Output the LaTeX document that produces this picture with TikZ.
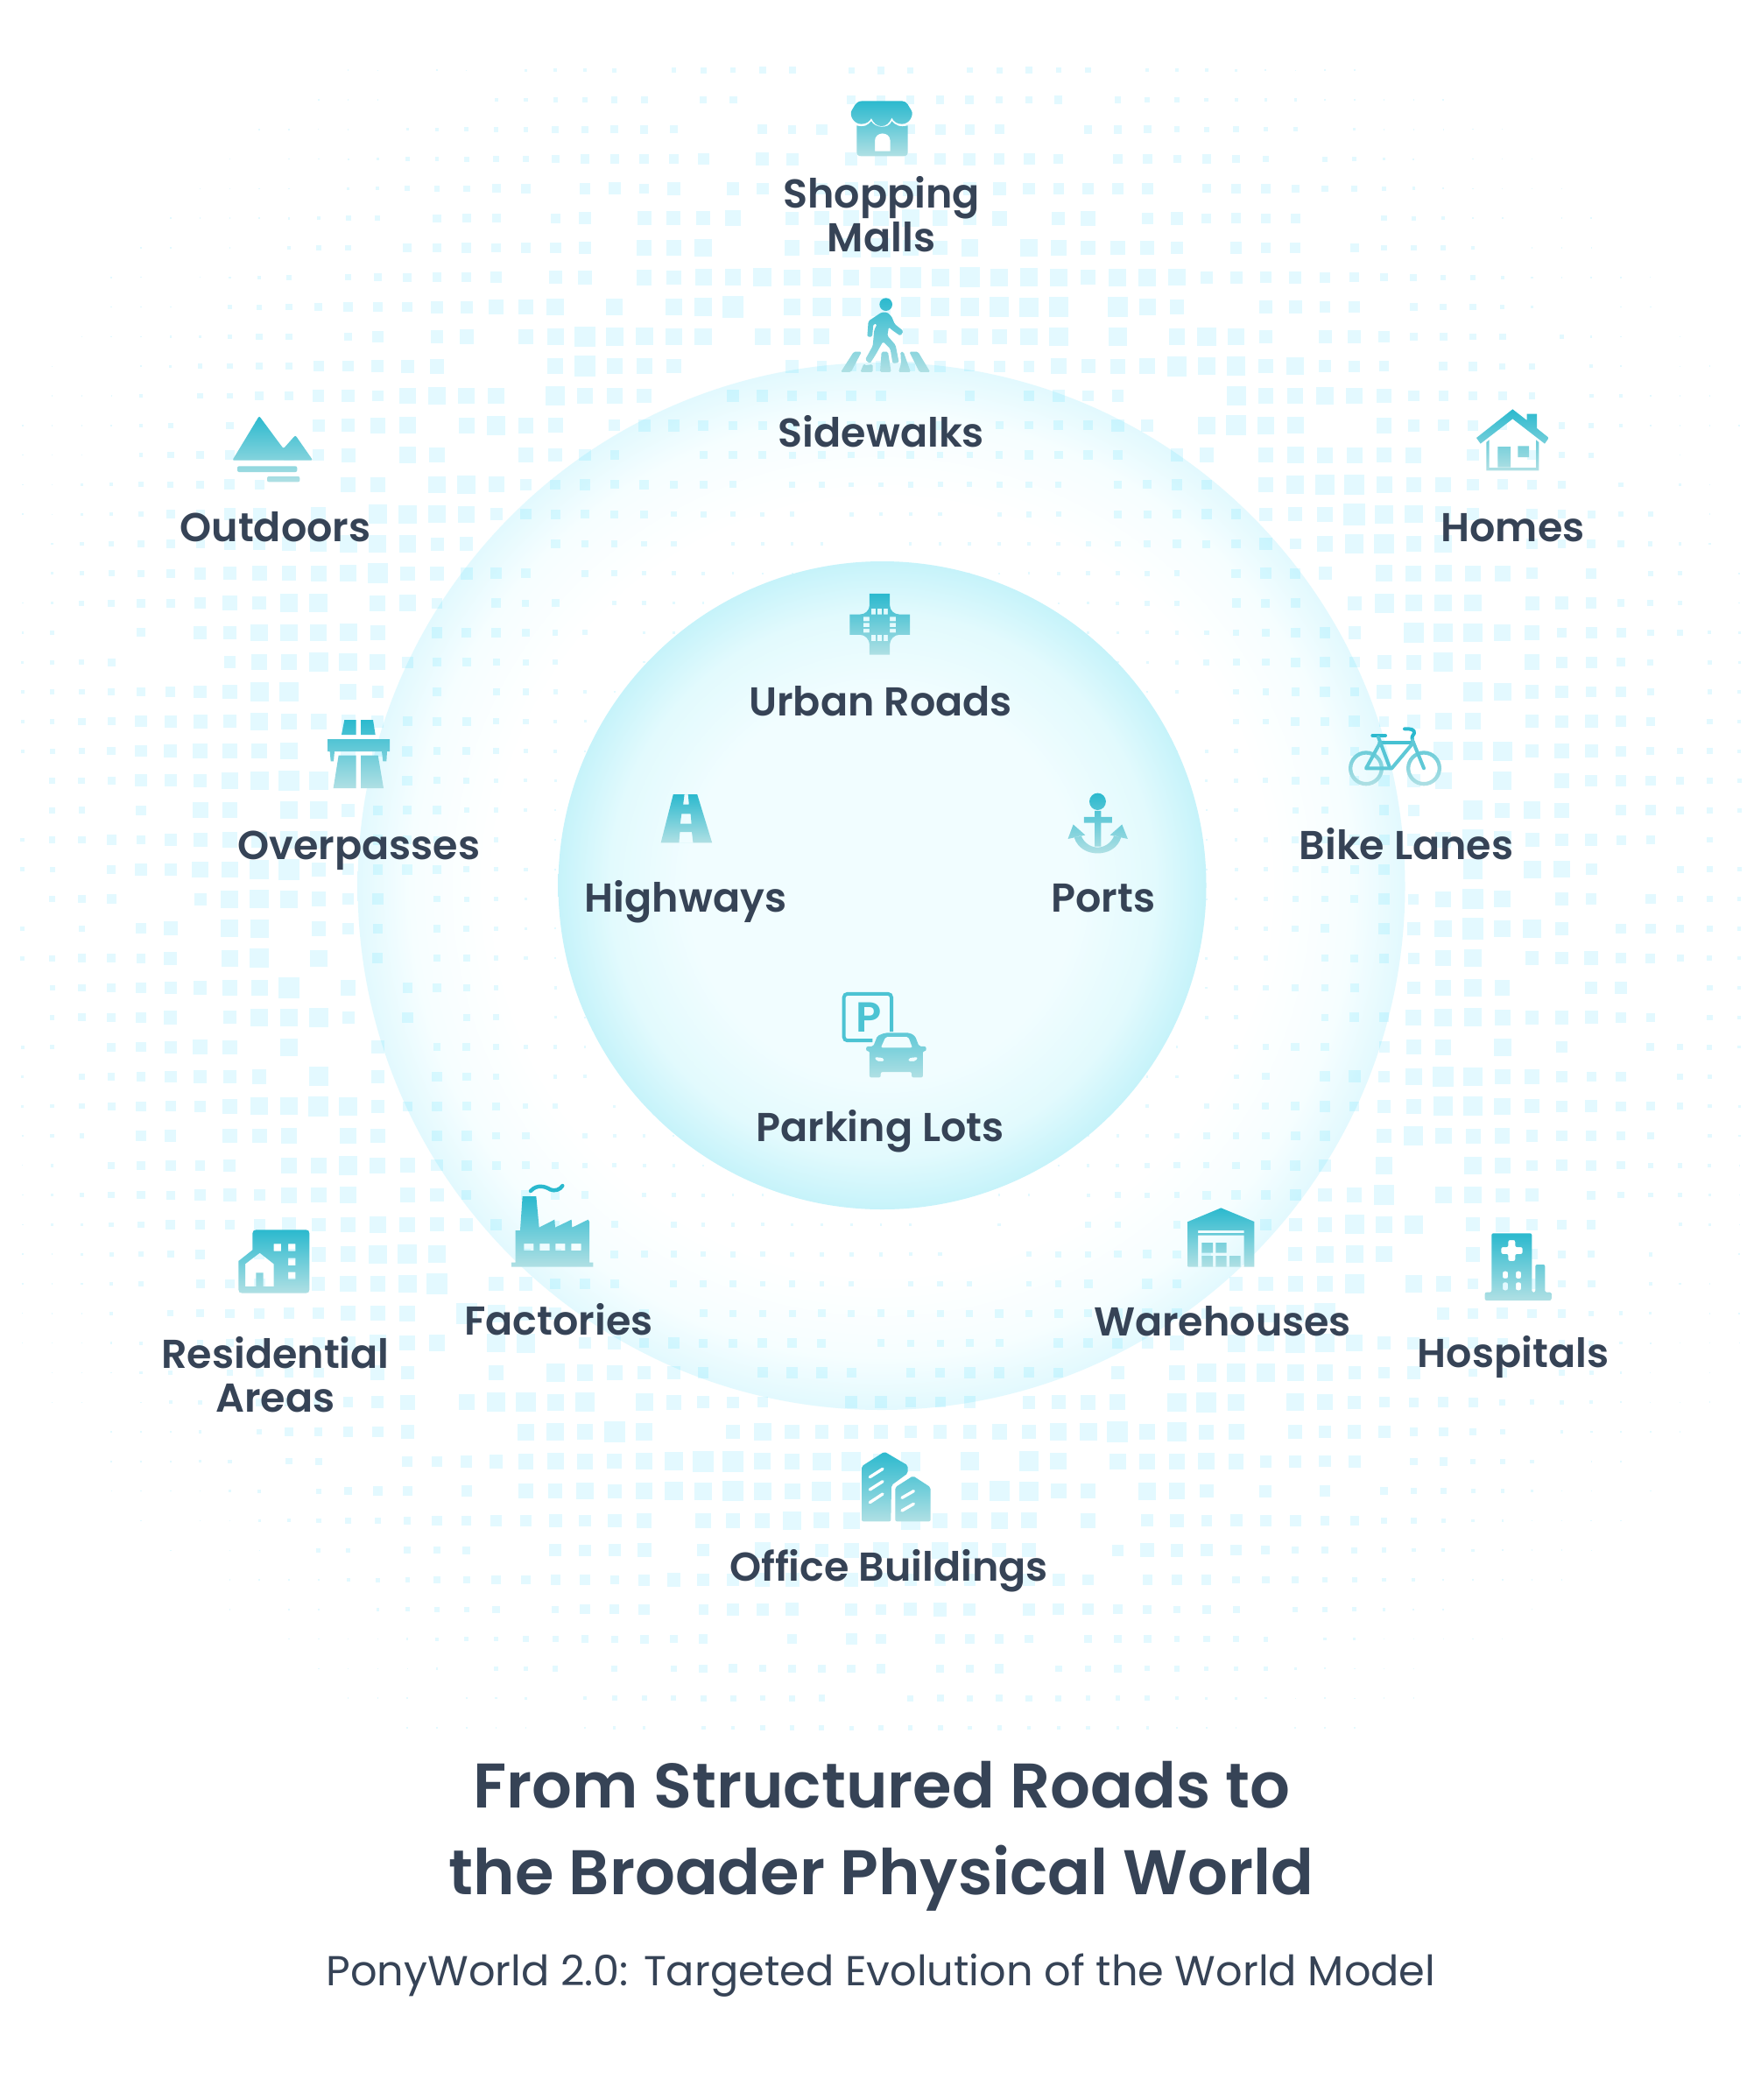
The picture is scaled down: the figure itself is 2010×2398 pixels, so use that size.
\documentclass[tikz,border=0pt]{standalone}
\usepackage{fontspec}
\newfontfamily\lblfont{Poppins SemiBold}
\newfontfamily\subfont{Poppins}
\usepackage{xcolor}
\definecolor{cText}{HTML}{364356}
\definecolor{cIconTop}{HTML}{2BB9CE}
\definecolor{cIconEnd}{HTML}{B0E0E4}
\definecolor{cDot}{HTML}{00D1FF}
\definecolor{cRingRim}{HTML}{E2F9FE}
\definecolor{cRingMid}{HTML}{F6FEFF}
\definecolor{cCore}{HTML}{F1FDFF}
\definecolor{cCoreMid}{HTML}{E2FAFD}
\definecolor{cCoreRim}{HTML}{C6F3FA}
\usepackage{tikz}
\usetikzlibrary{calc}
\pgfdeclareradialshading{ringshade}{\pgfpointorigin}{color(0bp)=(white);color(18.5bp)=(white);color(22.5bp)=(cRingMid);color(25bp)=(cRingRim);color(50bp)=(cRingRim)}
\pgfdeclareradialshading{coreshade}{\pgfpointorigin}{color(0bp)=(cCore);color(15bp)=(cCore);color(21bp)=(cCoreMid);color(25bp)=(cCoreRim);color(50bp)=(cCoreRim)}
\tikzset{
  node-label/.style={inner sep=0pt,text=cText,align=center,
    font=\lblfont\fontsize{23}{25}\selectfont},
  node-title/.style={inner sep=0pt,text=cText,anchor=base,
    font=\lblfont\fontsize{36}{49}\selectfont},
  node-sub/.style={inner sep=0pt,text=cText,anchor=base,
    font=\subfont\fontsize{23.9}{30}\selectfont},
  icon-fill/.style={top color=cIconTop,bottom color=cIconEnd},
  icon-holes/.style={icon-fill,even odd rule},
  icon-line/.style={line cap=round,line join=round,line width=2pt},
}
\begin{document}
\begin{tikzpicture}[x=0.5pt,y=-0.5pt]
  \path[use as bounding box,fill=white] (0,0) rectangle (2010,2398);
  % outer ring under the dots
  \shade[shading=ringshade] (1006.5,1012) circle[radius=598];
  % dot field, size follows the distance from the centre
  \pgfmathsetseed{271}
  \begin{scope}[fill=cDot,fill opacity=.11]
    \foreach \col in {-29,...,29} {
      \foreach \row in {-1,...,55} {
        \pgfmathsetmacro{\dotx}{1006+33.8*\col}
        \pgfmathsetmacro{\doty}{114+33.8*\row}
        \pgfmathsetmacro{\dotr}{veclen(\dotx-1006,\doty-1011)}
        \pgfmathsetmacro{\dotbase}{\dotr<370 ? 2 : (\dotr<600 ? 2+(\dotr-370)*11/230 :
          (\dotr<680 ? 13+(\dotr-600)*9/80 : (\dotr<1030 ? 22-(\dotr-680)*20/350 :
          (\dotr<1120 ? 1.5 : 0))))}
        \pgfmathsetmacro{\dotsz}{rnd<0.16 ? 0 : \dotbase*(0.85+0.3*rnd)}
        \ifdim\dotsz pt>0.5pt
          \fill ({\dotx-\dotsz/2},{\doty-\dotsz/2}) rectangle ++(\dotsz,\dotsz);
        \fi
      }
    }
  \end{scope}
  % inner disc
  \shade[shading=coreshade] (1007.5,1011) circle[radius=370];

  % shop and pedestrian
  \begin{scope}[shift={(850,90)},scale=1/3]
    \shade[icon-holes]
      (405,76) -- (540,76) .. controls (550,76) and (556,82) .. (560,88) -- (572,108)
      .. controls (582,124) and (566,155) .. (540,155) .. controls (525,155) and (512,148) .. (505,133)
      .. controls (498,152) and (485,162) .. (470,162) .. controls (455,162) and (442,152) .. (435,135)
      .. controls (428,148) and (416,155) .. (400,155) .. controls (375,155) and (358,124) .. (368,108)
      -- (380,88) .. controls (384,82) and (392,76) .. (405,76) -- cycle
      (385,160) .. controls (410,168) and (425,158) .. (435,145) .. controls (445,168) and (495,174) .. (505,145)
      .. controls (515,158) and (535,168) .. (560,160) -- (560,250) .. controls (560,260) and (555,265) .. (545,265)
      -- (400,265) .. controls (390,265) and (385,260) .. (385,250) -- cycle
      (447,248) -- (447,212) .. controls (447,196) and (460,187) .. (473,187)
      .. controls (488,187) and (500,196) .. (500,212) -- (500,248) -- cycle;
    \shade[icon-fill,rounded corners=0.8pt]
      (485,773) circle[radius=22]
      (470,800) -- (490,800) -- (505,815) -- (515,840) -- (545,864) -- (535,881) -- (505,860) -- (495,850)
      -- (490,880) -- (518,912) -- (530,972) -- (508,975) -- (500,925) -- (475,900) -- (450,945) -- (430,976)
      -- (414,962) -- (440,915) -- (445,860) -- (455,840) -- (442,840) -- (438,884) -- (421,884) -- (425,830) -- cycle
      (375,935) -- (402,935) -- (365,1005) -- (330,1005) -- cycle
      (410,975) -- (412,982) -- (440,978) -- (440,1005) -- (397,1005) -- cycle
      (470,935) -- (492,935) -- (503,1005) -- (465,1005) -- cycle
      (535,935) -- (545,935) -- (570,1005) -- (528,1005) -- (537,975) -- cycle
      (565,935) -- (595,935) -- (637,1005) -- (600,1005) -- cycle;
  \end{scope}

  % icons inside the inner disc
  \begin{scope}[shift={(640,640)},xscale=1/2.119,yscale=1/2.063]
    \shade[icon-holes]
      (748,78) -- (797,78) -- (797,105) .. controls (797,118) and (808,127) .. (820,127) -- (846,127)
      -- (846,175) -- (820,175) .. controls (808,175) and (797,186) .. (797,198) -- (797,222) -- (748,222)
      -- (748,198) .. controls (748,186) and (737,175) .. (725,175) -- (700,175) -- (700,127) -- (725,127)
      .. controls (737,127) and (748,118) .. (748,105) -- cycle
      (752,113) rectangle (763,127) (767,113) rectangle (778,127) (782,113) rectangle (792,127)
      (752,175) rectangle (763,190) (767,175) rectangle (778,190) (782,175) rectangle (792,190)
      (733,133) rectangle (748,143) (733,147) rectangle (748,157) (733,161) rectangle (748,170)
      (797,133) rectangle (812,143) (797,147) rectangle (812,157) (797,161) rectangle (812,170);
    \shade[icon-holes]
      (273,551) -- (331,551) -- (367,665) -- (243,665) -- cycle
      (300,551) -- (309,551) -- (311,575) -- (297,575) -- cycle
      (293,597) -- (315,597) -- (317,620) -- (290,620) -- cycle
      (289,640) -- (318,640) -- (321,665) -- (287,665) -- cycle;
    \shade[icon-fill]
      (1300,568) circle[radius=20]
      (1293,590) -- (1308,590) -- (1308,604) -- (1335,604) -- (1335,618) -- (1308,618) -- (1308,674)
      -- (1293,674) -- (1293,618) -- (1267,618) -- (1267,604) -- (1293,604) -- cycle
      (1243,652) .. controls (1252,680) and (1278,690) .. (1300,690) .. controls (1322,690) and (1348,680) .. (1357,652)
      -- (1340,648) .. controls (1334,664) and (1318,676) .. (1300,676) .. controls (1282,676) and (1266,664) .. (1260,648) -- cycle
      (1241,622) -- (1270,647) -- (1228,656) -- cycle
      (1359,622) -- (1373,656) -- (1330,647) -- cycle;
    \draw[cIconTop!75!cIconEnd,line width=2pt,rounded corners=2pt]
      (755,1131) -- (686,1131) -- (686,1021) -- (801,1021) -- (801,1110);
    \node[inner sep=0pt,text=cIconTop!75!cIconEnd,font=\lblfont\fontsize{24}{24}\selectfont]
      (parksign) at (746,1077) {P};
    \shade[icon-holes,rounded corners=1pt,top color=cIconTop!60!cIconEnd]
      (785,1113) -- (845,1113) -- (858,1120) -- (868,1145) -- (885,1145) -- (885,1156) -- (877,1156)
      -- (877,1218) -- (850,1218) -- (850,1205) -- (775,1205) -- (775,1218) -- (748,1218) -- (748,1156)
      -- (740,1156) -- (740,1145) -- (757,1145) -- (767,1120) -- cycle
      (787,1122) -- (842,1122) -- (852,1148) -- (775,1148) -- cycle
      (760,1170) -- (783,1172) -- (783,1180) -- (765,1180) -- cycle
      (842,1172) -- (865,1170) -- (860,1180) -- (842,1180) -- cycle;
  \end{scope}

  % outdoors and overpass
  \begin{scope}[shift={(200,440)},scale=1/3]
    \shade[icon-fill,rounded corners=1pt]
      (288,105) -- (371,217) -- (412,171) -- (472,257) -- (196,257) -- cycle
      (213,277) -- (418,277) -- (418,297) -- (213,297) -- cycle
      (315,312) -- (427,312) -- (427,331) -- (315,331) -- cycle;
    \shade[icon-fill]
      (580,1146) -- (620,1146) -- (620,1197) -- (570,1197) -- cycle
      (636,1146) -- (678,1146) -- (686,1197) -- (636,1197) -- cycle
      (522,1212) -- (735,1212) -- (735,1254) -- (726,1254) -- (724,1288) -- (712,1288) -- (708,1254)
      -- (546,1254) -- (543,1288) -- (533,1288) -- (530,1254) -- (522,1254) -- cycle
      (560,1268) -- (620,1268) -- (620,1380) -- (542,1380) -- cycle
      (636,1268) -- (695,1268) -- (714,1380) -- (636,1380) -- cycle;
  \end{scope}

  % house and bicycle
  \begin{scope}[shift={(1450,440)},scale=1/3]
    \shade[icon-fill]
      (832,82) -- (881,120) -- (881,98) -- (915,98) -- (915,147) -- (956,180) -- (942,200) -- (832,115)
      -- (722,200) -- (708,180) -- cycle
      (742,195) -- (752,187) -- (752,282) -- (912,282) -- (912,187) -- (922,195) -- (922,292) -- (742,292) -- cycle
      (781,210) -- (825,210) -- (825,281) -- (781,281) -- cycle
      (850,208) -- (888,208) -- (888,246) -- (850,246) -- cycle;
    \shade[even odd rule,top color=cIconTop!50!cIconEnd,bottom color=cIconEnd]
      (330,1312) circle[radius=60] (330,1312) circle[radius=47]
      (528,1312) circle[radius=60] (528,1312) circle[radius=47];
    \draw[icon-line,cIconTop] (462,1177) .. controls (480,1176) and (498,1178) .. (495,1192)
      .. controls (493,1200) and (484,1200) .. (489,1216);
    \draw[icon-line,cIconTop] (352,1200) -- (396,1200);
    \draw[icon-line,cIconTop!80!cIconEnd] (376,1224) -- (492,1224);
    \draw[icon-line,cIconTop!68!cIconEnd] (372,1205) -- (412,1312);
    \draw[icon-line,cIconTop!62!cIconEnd] (492,1224) -- (418,1312) -- (330,1312) -- (376,1228);
    \draw[icon-line,cIconTop!62!cIconEnd] (489,1216) -- (528,1312);
  \end{scope}

  % residential block and factory
  \begin{scope}[shift={(250,1340)},scale=1/3]
    \shade[icon-holes]
      (115,205) .. controls (115,197) and (120,193) .. (128,193) -- (298,193) .. controls (306,193) and (310,197) .. (310,205)
      -- (310,398) .. controls (310,406) and (306,410) .. (298,410) -- (80,410) .. controls (72,410) and (67,406) .. (67,398)
      -- (67,300) -- (115,262) -- cycle
      (90,387) -- (90,310) -- (140,272) -- (188,310) -- (188,387) -- (152,387) -- (152,340) -- (127,340) -- (127,387) -- cycle
      (188,241) rectangle (213,266) (237,241) rectangle (262,266)
      (237,290) rectangle (262,315) (237,338) rectangle (262,362);
    \draw[cIconTop,line width=2.2pt,line cap=round] (1068,60) .. controls (1090,35) and (1120,45) .. (1135,55)
      .. controls (1150,62) and (1170,55) .. (1177,42);
    \shade[icon-holes]
      (1040,78) -- (1087,78) -- (1097,185) -- (1150,158) -- (1152,185) -- (1208,158) -- (1210,185) -- (1265,158)
      -- (1269,165) -- (1269,305) -- (1282,305) -- (1282,320) -- (1002,320) -- (1002,305) -- (1016,305) -- (1016,195)
      -- (1032,195) -- cycle
      (1045,240) rectangle (1078,264) (1099,240) rectangle (1133,264)
      (1153,240) rectangle (1186,264) (1207,240) rectangle (1241,264);
  \end{scope}

  % warehouse and hospital
  \begin{scope}[shift={(1300,1340)},scale=1/3]
    \shade[icon-holes]
      (283,118) -- (397,165) -- (397,320) -- (170,320) -- (170,165) -- cycle
      (204,195) rectangle (362,204)
      (204,212) rectangle (362,320)
      (217,237) rectangle (255,272) (265,237) rectangle (302,272)
      (217,282) rectangle (255,320) (265,282) rectangle (302,320) (312,282) rectangle (350,320);
    \shade[icon-holes,rounded corners=1pt]
      (1210,205) -- (1348,205) -- (1348,407) -- (1360,407) -- (1360,312) -- (1393,312) -- (1393,407)
      -- (1415,407) -- (1415,435) -- (1187,435) -- (1187,407) -- (1210,407) -- cycle
      (1267,228) -- (1291,228) -- (1291,252) -- (1316,252) -- (1316,276) -- (1291,276) -- (1291,300) -- (1267,300)
      -- (1267,276) -- (1243,276) -- (1243,252) -- (1267,252) -- cycle
      (1248,335) rectangle (1266,360) (1293,335) rectangle (1311,360)
      (1248,373) rectangle (1266,400) (1293,373) rectangle (1311,400);
  \end{scope}

  % office buildings
  \begin{scope}[shift={(880,1620)},scale=1/3]
    \shade[icon-fill,rounded corners=1pt]
      (390,113) -- (470,160) -- (470,187) -- (414,228) -- (412,352) -- (312,352) -- (312,163) -- cycle
      (488,196) -- (548,235) -- (548,352) -- (427,352) -- (427,235) -- cycle;
    \draw[white,line width=1.7pt,line cap=round]
      (340,200) -- (384,172) (340,243) -- (384,215) (340,287) -- (384,258)
      (450,271) -- (490,248) (450,315) -- (490,292);
  \end{scope}

  % labels
  \node[node-label] (malls) at (1006.5,245) {Shopping\\Malls};
  \node[node-label,anchor=base] (walks) at (1006.5,510) {Sidewalks};
  \node[node-label,anchor=base] (outd) at (314.5,618.5) {Outdoors};
  \node[node-label,anchor=base] (homes) at (1727.5,618.5) {Homes};
  \node[node-label,anchor=base] (urban) at (1005.5,817) {Urban Roads};
  \node[node-label,anchor=base] (bike) at (1606,981) {Bike Lanes};
  \node[node-label,anchor=base] (over) at (410,981) {Overpasses};
  \node[node-label,anchor=base] (high) at (783,1041) {Highways};
  \node[node-label,anchor=base] (ports) at (1260,1041) {Ports};
  \node[node-label,anchor=base] (park) at (1005,1303) {Parking Lots};
  \node[node-label,anchor=base] (fact) at (638,1524) {Factories};
  \node[node-label,anchor=base] (ware) at (1396,1525) {Warehouses};
  \node[node-label,anchor=base] (hosp) at (1728,1561) {Hospitals};
  \node[node-label] (resi) at (314.5,1569.5) {Residential\\Areas};
  \node[node-label,anchor=base] (office) at (1015,1805) {Office Buildings};
  \node[node-title] (title1) at (1007,2064) {From Structured Roads to};
  \node[node-title] (title2) at (1006.5,2163) {the Broader Physical World};
  \node[node-sub] (subline) at (1006,2267.5) {PonyWorld 2.0: Targeted Evolution of the World Model};
\end{tikzpicture}
\end{document}
